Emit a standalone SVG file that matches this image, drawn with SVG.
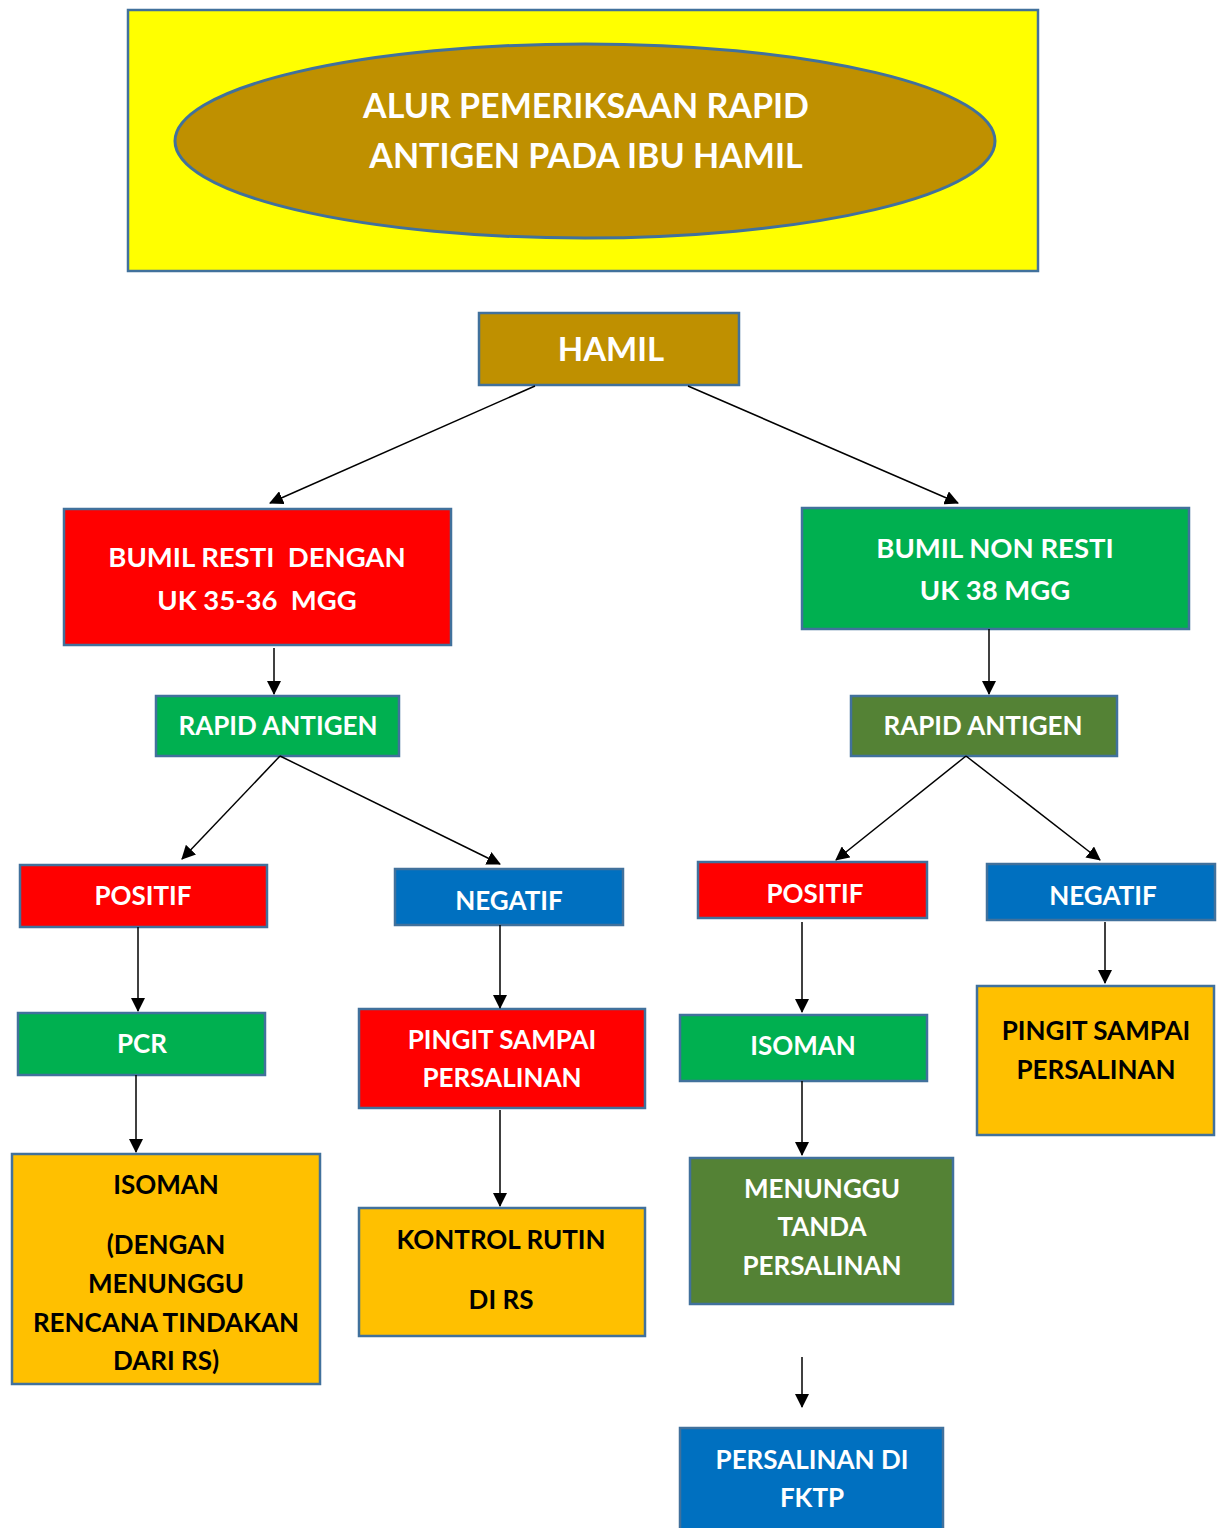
<svg xmlns="http://www.w3.org/2000/svg" width="1224" height="1528" viewBox="0 0 1224 1528">
<defs>
<marker id="ah" viewBox="0 0 14 14" refX="13" refY="7" markerWidth="14" markerHeight="14" markerUnits="userSpaceOnUse" orient="auto">
<path d="M0,0 L14,7 L0,14 Z" fill="#000"/>
</marker>
<style>
.box{stroke:#41719C;stroke-width:2.5}
.t{font-family:Lato,"Open Sans","Liberation Sans",sans-serif;font-weight:bold;font-size:26px;text-anchor:middle;white-space:pre}
.w{fill:#fff}
.k{fill:#000}
.c{stroke:#000;stroke-width:1.5;fill:none;marker-end:url(#ah)}
</style>
</defs>
<rect width="1224" height="1528" fill="#fff"/>
<g id="title">
<rect x="128" y="10" width="910" height="261" fill="#FFFF00" class="box"/>
<ellipse cx="585" cy="141" rx="410" ry="97" fill="#BF9000" stroke="#41719C" stroke-width="3"/>
<text class="t w" x="586" y="118" style="font-size:34px">ALUR PEMERIKSAAN RAPID</text>
<text class="t w" x="586" y="168" style="font-size:34px">ANTIGEN PADA IBU HAMIL</text>
</g>
<g id="hamil">
<rect x="479" y="313" width="260" height="72" fill="#BF9000" class="box"/>
<text class="t w" x="611" y="361" style="font-size:33px">HAMIL</text>
</g>
<g id="resti">
<rect x="64" y="509" width="387" height="136" fill="#FF0000" class="box"/>
<text class="t w" x="257" y="567" style="font-size:27.5px" xml:space="preserve">BUMIL RESTI  DENGAN</text>
<text class="t w" x="257" y="610" style="font-size:27.5px" xml:space="preserve">UK 35-36  MGG</text>
</g>
<g id="nonresti">
<rect x="802" y="508" width="387" height="121" fill="#00B050" class="box"/>
<text class="t w" x="995" y="558" style="font-size:27.5px">BUMIL NON RESTI</text>
<text class="t w" x="995" y="600" style="font-size:27.5px">UK 38 MGG</text>
</g>
<g id="rapid1">
<rect x="156" y="696" width="243" height="60" fill="#00B050" class="box"/>
<text class="t w" x="278" y="735">RAPID ANTIGEN</text>
</g>
<g id="rapid2">
<rect x="851" y="696" width="266" height="60" fill="#548235" class="box"/>
<text class="t w" x="983" y="735">RAPID ANTIGEN</text>
</g>
<g id="pos1">
<rect x="20" y="865" width="247" height="62" fill="#FF0000" class="box"/>
<text class="t w" x="143" y="905">POSITIF</text>
</g>
<g id="neg1">
<rect x="395" y="869" width="228" height="56" fill="#0070C0" class="box"/>
<text class="t w" x="509" y="910">NEGATIF</text>
</g>
<g id="pcr">
<rect x="18" y="1013" width="247" height="62" fill="#00B050" class="box"/>
<text class="t w" x="142" y="1053">PCR</text>
</g>
<g id="pingit1">
<rect x="359" y="1009" width="286" height="99" fill="#FF0000" class="box"/>
<text class="t w" x="502" y="1049">PINGIT SAMPAI</text>
<text class="t w" x="502" y="1087">PERSALINAN</text>
</g>
<g id="isoman1">
<rect x="12" y="1154" width="308" height="230" fill="#FFC000" class="box"/>
<text class="t k" x="166" y="1194">ISOMAN</text>
<text class="t k" x="166" y="1254">(DENGAN</text>
<text class="t k" x="166" y="1293">MENUNGGU</text>
<text class="t k" x="166" y="1332">RENCANA TINDAKAN</text>
<text class="t k" x="166" y="1370">DARI RS)</text>
</g>
<g id="kontrol">
<rect x="359" y="1208" width="286" height="128" fill="#FFC000" class="box"/>
<text class="t k" x="501" y="1249">KONTROL RUTIN</text>
<text class="t k" x="501" y="1309">DI RS</text>
</g>
<g id="pos2">
<rect x="698" y="862" width="229" height="56" fill="#FF0000" class="box"/>
<text class="t w" x="815" y="903">POSITIF</text>
</g>
<g id="neg2">
<rect x="987" y="864" width="228" height="56" fill="#0070C0" class="box"/>
<text class="t w" x="1103" y="905">NEGATIF</text>
</g>
<g id="isoman2">
<rect x="680" y="1015" width="247" height="66" fill="#00B050" class="box"/>
<text class="t w" x="803" y="1055">ISOMAN</text>
</g>
<g id="pingit2">
<rect x="977" y="986" width="237" height="149" fill="#FFC000" class="box"/>
<text class="t k" x="1096" y="1040">PINGIT SAMPAI</text>
<text class="t k" x="1096" y="1079">PERSALINAN</text>
</g>
<g id="menunggu">
<rect x="690" y="1158" width="263" height="146" fill="#548235" class="box"/>
<text class="t w" x="822" y="1198">MENUNGGU</text>
<text class="t w" x="822" y="1236">TANDA</text>
<text class="t w" x="822" y="1275">PERSALINAN</text>
</g>
<g id="fktp">
<rect x="680" y="1428" width="263" height="110" fill="#0070C0" class="box"/>
<text class="t w" x="812" y="1469">PERSALINAN DI</text>
<text class="t w" x="812" y="1507">FKTP</text>
</g>
<g id="connectors">
<line class="c" x1="535" y1="386" x2="270" y2="503"/>
<line class="c" x1="688" y1="386" x2="958" y2="503"/>
<line class="c" x1="274" y1="648" x2="274" y2="694"/>
<line class="c" x1="989" y1="629" x2="989" y2="694"/>
<line class="c" x1="280" y1="756" x2="182" y2="859"/>
<line class="c" x1="280" y1="756" x2="500" y2="864"/>
<line class="c" x1="138" y1="927" x2="138" y2="1011"/>
<line class="c" x1="500" y1="925" x2="500" y2="1008"/>
<line class="c" x1="136" y1="1075" x2="136" y2="1152"/>
<line class="c" x1="500" y1="1110" x2="500" y2="1206"/>
<line class="c" x1="966" y1="756" x2="836" y2="860"/>
<line class="c" x1="966" y1="756" x2="1100" y2="860"/>
<line class="c" x1="802" y1="922" x2="802" y2="1012"/>
<line class="c" x1="1105" y1="922" x2="1105" y2="983"/>
<line class="c" x1="802" y1="1081" x2="802" y2="1155"/>
<line class="c" x1="802" y1="1357" x2="802" y2="1407"/>
</g>
</svg>
